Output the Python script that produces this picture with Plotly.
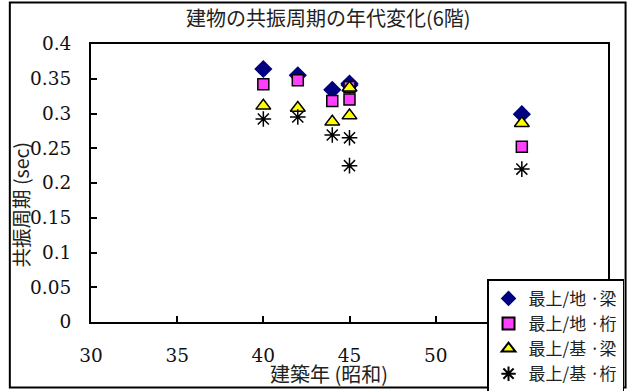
import plotly.graph_objects as go

# Construction year (Showa era) of each building
years = [40, 42, 44, 45, 45, 55]

# Resonance period (sec) for each measurement combination
top_ground_beam = [0.364, 0.355, 0.334, 0.343, 0.341, 0.299]
top_ground_girder = [0.342, 0.348, 0.318, 0.338, 0.320, 0.252]
top_base_beam = [0.311, 0.308, 0.288, 0.337, 0.297, 0.286]
top_base_girder = [0.292, 0.295, 0.269, 0.265, 0.225, 0.220]

series_names = ["最上/地 ·梁", "最上/地 ·桁", "最上/基 ·梁", "最上/基 ·桁"]

x_ticks = [30, 35, 40, 45, 50, 55, 60]
y_ticks = [0, 0.05, 0.1, 0.15, 0.2, 0.25, 0.3, 0.35, 0.4]

SERIF = "DejaVu Serif"
CJK = "Noto Sans CJK JP"

fig = go.Figure()

fig.add_trace(go.Scatter(
    x=years, y=top_ground_beam, mode="markers", name=series_names[0],
    marker=dict(symbol="diamond", size=14, color="#000080",
                line=dict(width=0)),
))
fig.add_trace(go.Scatter(
    x=years, y=top_ground_girder, mode="markers", name=series_names[1],
    marker=dict(symbol="square", size=11, color="#FF40FF",
                line=dict(width=1.5, color="black")),
))
fig.add_trace(go.Scatter(
    x=years, y=top_base_beam, mode="markers", name=series_names[2],
    marker=dict(symbol="triangle-up", size=13, color="#FFFF00",
                line=dict(width=1.5, color="black")),
))
fig.add_trace(go.Scatter(
    x=years, y=top_base_girder, mode="markers", name=series_names[3],
    marker=dict(symbol="asterisk-open", size=13, color="black",
                line=dict(width=1.5, color="black")),
))

tick_font = dict(family=SERIF, size=18.5, color="#111")

fig.update_layout(
    width=629, height=391,
    margin=dict(l=91, r=21, t=44, b=69, autoexpand=False),
    paper_bgcolor="white", plot_bgcolor="white",
    font=dict(family=SERIF, size=18.5, color="#111"),
    showlegend=True,
    xaxis=dict(
        range=[30, 60], tickmode="array", tickvals=x_ticks,
        ticktext=[str(v) for v in x_ticks], tickfont=tick_font,
        showline=True, linecolor="black", linewidth=2, mirror=True,
        ticks="inside", ticklen=6, tickwidth=1.5, tickcolor="black",
        showgrid=False, zeroline=False, automargin=False,
        ticklabelstandoff=16,
    ),
    yaxis=dict(
        range=[0, 0.4], tickmode="array", tickvals=y_ticks,
        ticktext=[f"{v:g}" for v in y_ticks], tickfont=tick_font,
        showline=True, linecolor="black", linewidth=2, mirror=True,
        ticks="inside", ticklen=6, tickwidth=1.5, tickcolor="black",
        showgrid=False, zeroline=False, automargin=False,
        ticklabelstandoff=14,
    ),
    legend=dict(
        x=0.766, y=0.1535, xanchor="left", yanchor="top",
        bgcolor="white", bordercolor="black", borderwidth=1.5,
        font=dict(family=CJK, size=17, color="#222"),
        itemsizing="constant", itemwidth=30, tracegroupgap=0,
    ),
    annotations=[
        dict(text="建物の共振周期の年代変化(6階)", xref="paper", yref="paper",
             x=0.46, y=1.095, xanchor="center", yanchor="middle",
             showarrow=False, font=dict(family=CJK, size=20, color="#222")),
        dict(text="建築年 (昭和)", xref="paper", yref="paper",
             x=0.46, y=-0.185, xanchor="center", yanchor="middle",
             showarrow=False, font=dict(family=CJK, size=20, color="#222")),
        dict(text="共振周期 (sec)", xref="paper", yref="paper",
             x=-0.137, y=0.42, xanchor="center", yanchor="middle",
             textangle=-90, showarrow=False,
             font=dict(family=CJK, size=19.5, color="#222")),
    ],
    shapes=[
        dict(type="rect", xref="paper", yref="paper",
             x0=-0.157, x1=1.034, y0=-0.236, y1=1.149,
             line=dict(color="black", width=2), fillcolor="rgba(0,0,0,0)",
             layer="below"),
    ],
)

fig.write_html("out.html")
